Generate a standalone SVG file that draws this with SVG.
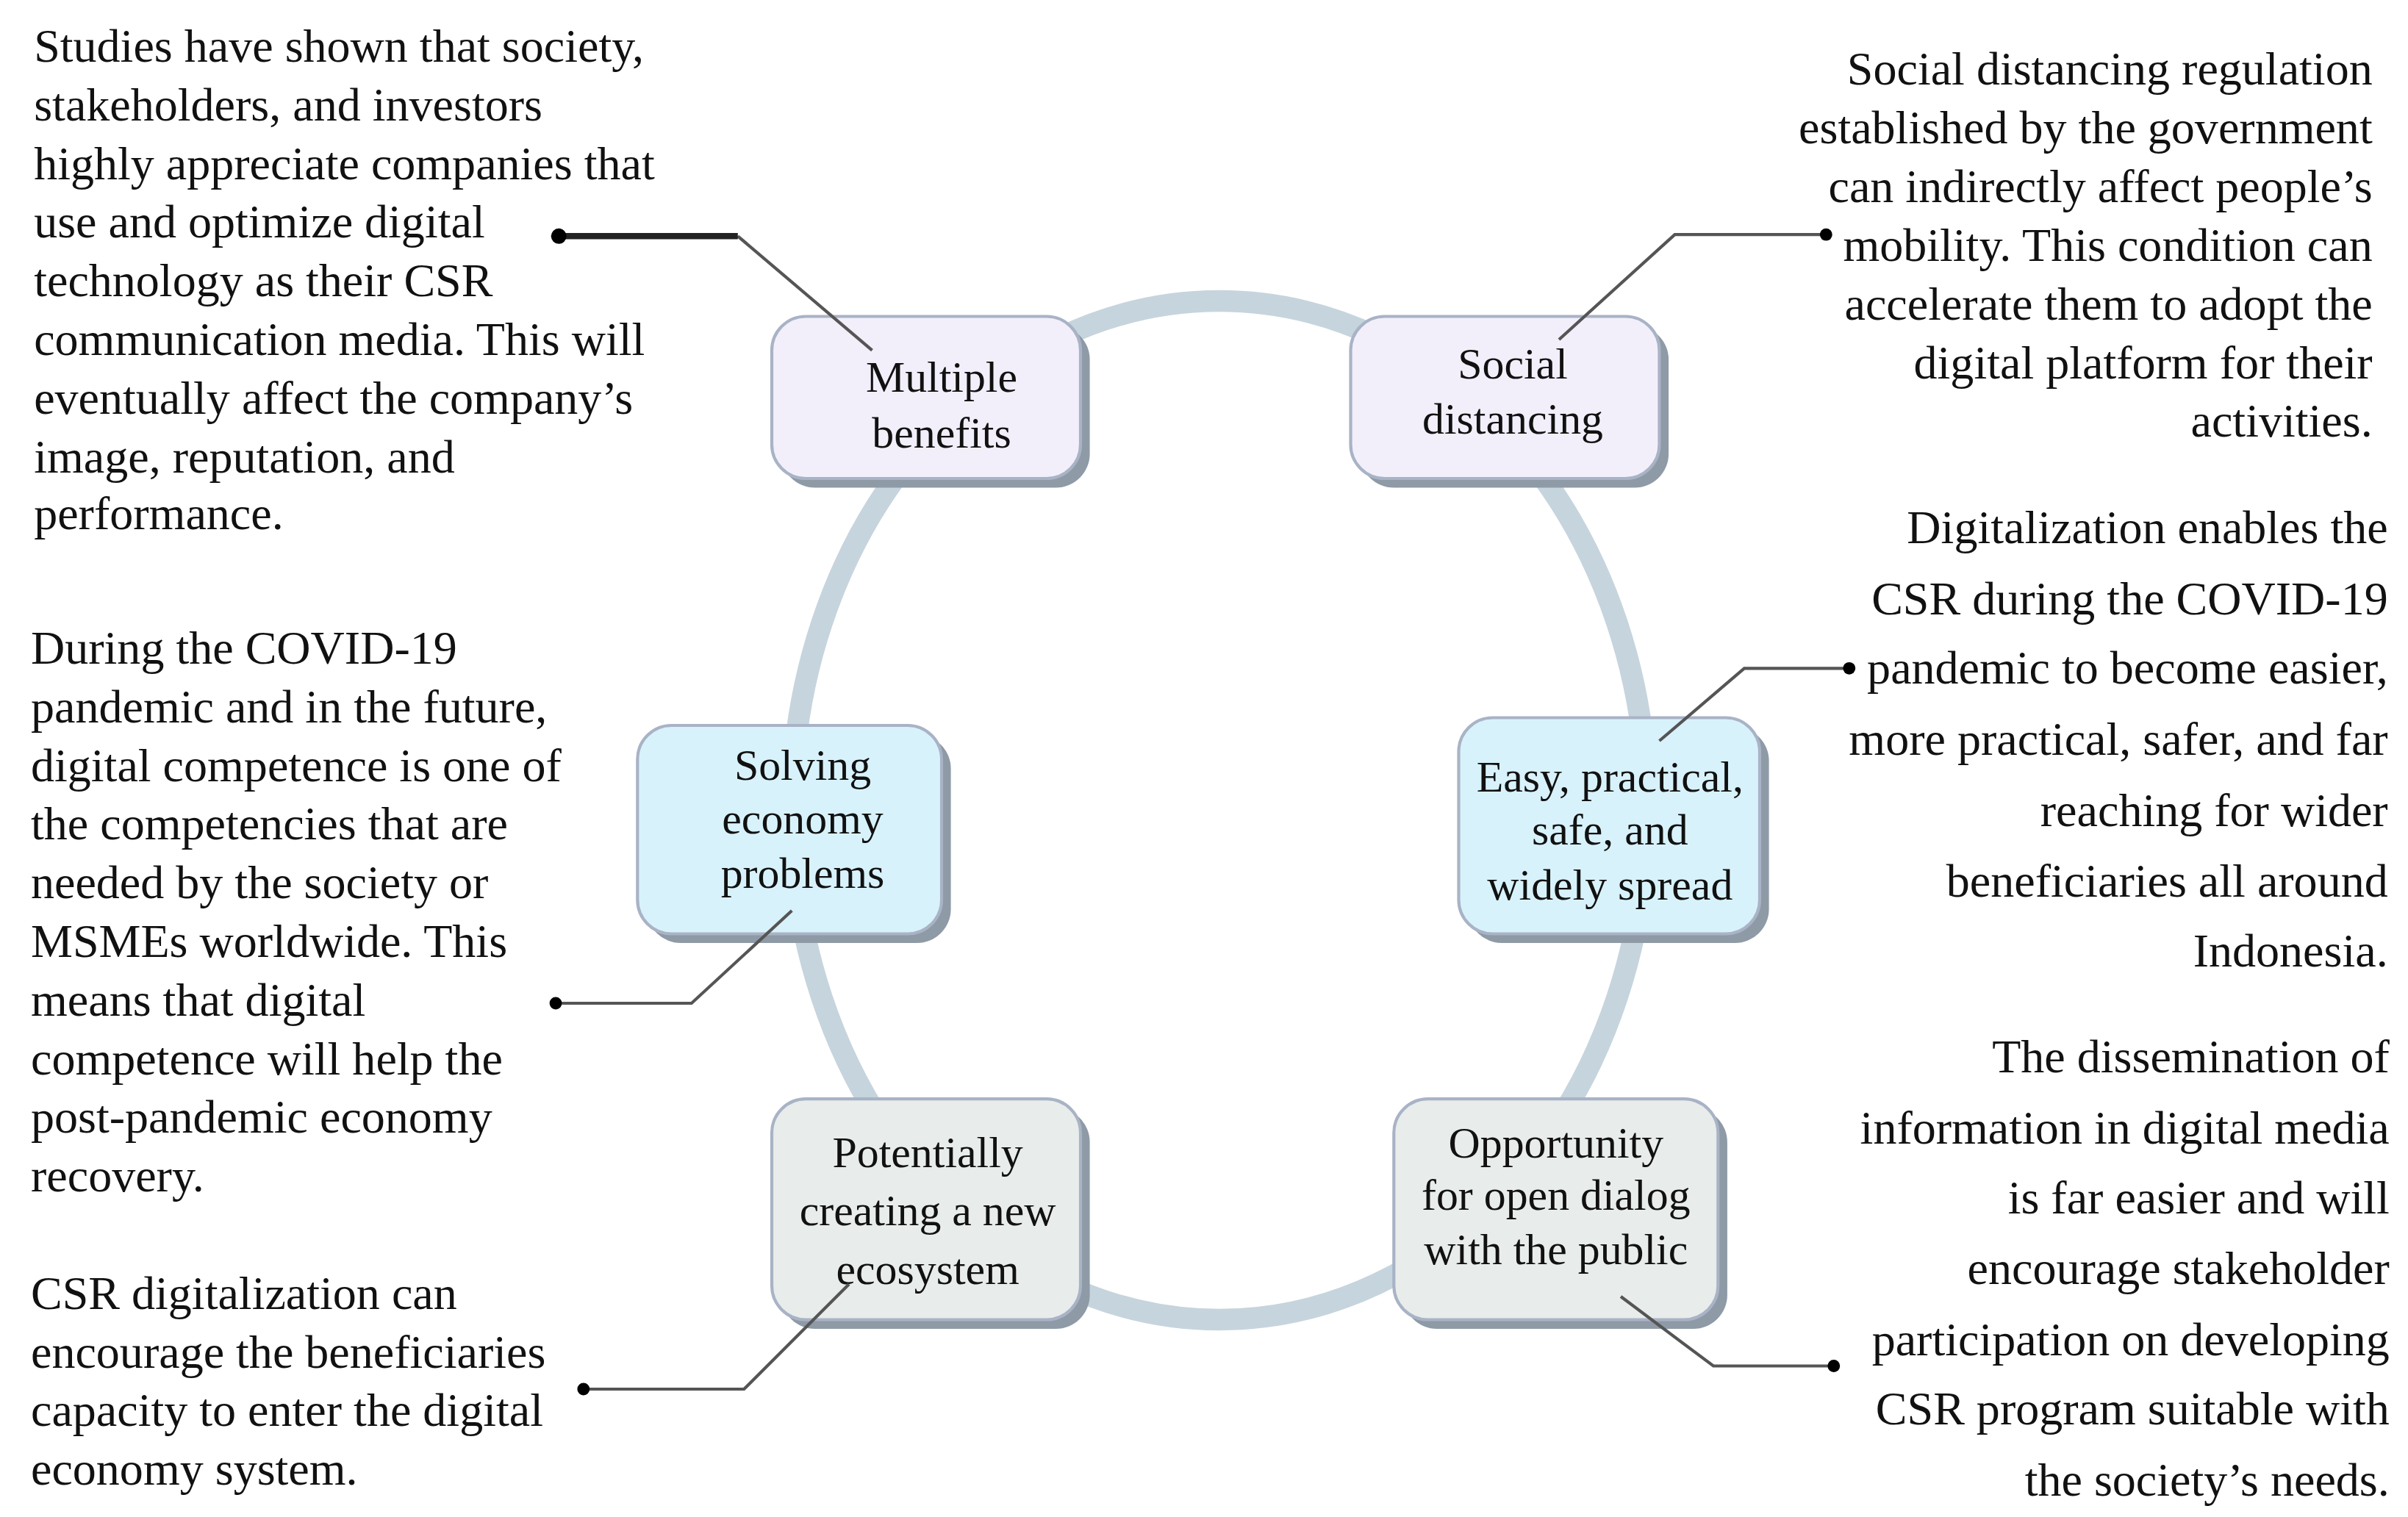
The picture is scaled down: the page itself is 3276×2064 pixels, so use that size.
<svg xmlns="http://www.w3.org/2000/svg" width="3276" height="2064" viewBox="0 0 3276 2064">
<style>
.t{font-family:"Liberation Serif","DejaVu Serif",serif;font-size:30.5px;fill:#111}
.b{font-family:"Liberation Serif","DejaVu Serif",serif;font-size:28.5px;fill:#111;text-anchor:middle}
.r{text-anchor:end}
.sh{fill:#8e9aa6}
.bx{stroke:#a9b3c6;stroke-width:2}
.lav{fill:#f2effb}.cy{fill:#d8f2fb}.gr{fill:#e8ecea}
.ln{fill:none;stroke:#555;stroke-width:2}
.dl{stroke:#222;stroke-width:4}
</style>
<rect width="3276" height="2064" fill="#fff"/>
<g transform="scale(2.1)">
<ellipse id="ring" cx="790" cy="525" rx="277" ry="330" fill="none" stroke="#c6d4dd" stroke-width="14"/>
<g id="n1"><rect class="sh" x="506" y="211" width="200" height="105" rx="22"/><rect class="bx lav" x="500" y="205" width="200" height="105" rx="22"/><text class="b" x="610" y="254">Multiple</text><text class="b" x="610" y="290">benefits</text></g>
<g id="n2"><rect class="sh" x="881" y="211" width="200" height="105" rx="22"/><rect class="bx lav" x="875" y="205" width="200" height="105" rx="22"/><text class="b" x="980" y="245">Social</text><text class="b" x="980" y="281">distancing</text></g>
<g id="n3"><rect class="sh" x="419" y="476" width="197" height="135" rx="22"/><rect class="bx cy" x="413" y="470" width="197" height="135" rx="22"/><text class="b" x="520" y="505">Solving</text><text class="b" x="520" y="540">economy</text><text class="b" x="520" y="575">problems</text></g>
<g id="n4"><rect class="sh" x="951" y="471" width="195" height="140" rx="22"/><rect class="bx cy" x="945" y="465" width="195" height="140" rx="22"/><text class="b" x="1043" y="513">Easy, practical,</text><text class="b" x="1043" y="547">safe, and</text><text class="b" x="1043" y="583">widely spread</text></g>
<g id="n5"><rect class="sh" x="506" y="718" width="200" height="143" rx="22"/><rect class="bx gr" x="500" y="712" width="200" height="143" rx="22"/><text class="b" x="601" y="756">Potentially</text><text class="b" x="601" y="794">creating a new</text><text class="b" x="601" y="832">ecosystem</text></g>
<g id="n6"><rect class="sh" x="909" y="718" width="210" height="143" rx="22"/><rect class="bx gr" x="903" y="712" width="210" height="143" rx="22"/><text class="b" x="1008" y="750">Opportunity</text><text class="b" x="1008" y="784">for open dialog</text><text class="b" x="1008" y="819">with the public</text></g>
<g id="connectors">
<polyline class="ln" points="565,227 478,153"/><line class="dl" x1="478" y1="153" x2="362" y2="153"/><circle cx="362" cy="153" r="5"/>
<polyline class="ln" points="1010,220 1085,152 1183,152"/><circle cx="1183" cy="152" r="4"/>
<polyline class="ln" points="1075,480 1130,433 1198,433"/><circle cx="1198" cy="433" r="4"/>
<polyline class="ln" points="513,590 448,650 360,650"/><circle cx="360" cy="650" r="4"/>
<polyline class="ln" points="550,832 482,900 378,900"/><circle cx="378" cy="900" r="4"/>
<polyline class="ln" points="1050,840 1110,885 1188,885"/><circle cx="1188" cy="885" r="4"/>
</g>
<g id="txt1" class="t">
<text x="22" y="40">Studies have shown that society,</text>
<text x="22" y="78">stakeholders, and investors</text>
<text x="22" y="116">highly appreciate companies that</text>
<text x="22" y="154">use and optimize digital</text>
<text x="22" y="192">technology as their CSR</text>
<text x="22" y="230">communication media. This will</text>
<text x="22" y="268">eventually affect the company’s</text>
<text x="22" y="306">image, reputation, and</text>
<text x="22" y="343">performance.</text>
</g>
<g id="txt2" class="t r">
<text x="1537" y="55">Social distancing regulation</text>
<text x="1537" y="93">established by the government</text>
<text x="1537" y="131">can indirectly affect people’s</text>
<text x="1537" y="169">mobility.  This condition can</text>
<text x="1537" y="207">accelerate them to adopt the</text>
<text x="1537" y="245">digital platform for their</text>
<text x="1537" y="283">activities.</text>
</g>
<g id="txt3" class="t r">
<text x="1547" y="352">Digitalization enables the</text>
<text x="1547" y="398">CSR during the COVID-19</text>
<text x="1547" y="443">pandemic to become easier,</text>
<text x="1547" y="489">more practical, safer, and far</text>
<text x="1547" y="535">reaching for wider</text>
<text x="1547" y="581">beneficiaries all around</text>
<text x="1547" y="626">Indonesia.</text>
</g>
<g id="txt4" class="t">
<text x="20" y="430">During the COVID-19</text>
<text x="20" y="468">pandemic and in the future,</text>
<text x="20" y="506">digital competence is one of</text>
<text x="20" y="544">the competencies that are</text>
<text x="20" y="582">needed by the society or</text>
<text x="20" y="620">MSMEs worldwide. This</text>
<text x="20" y="658">means that digital</text>
<text x="20" y="696">competence will help the</text>
<text x="20" y="734">post-pandemic economy</text>
<text x="20" y="772">recovery.</text>
</g>
<g id="txt5" class="t r">
<text x="1548" y="695">The dissemination of</text>
<text x="1548" y="741">information in digital media</text>
<text x="1548" y="786">is far easier and will</text>
<text x="1548" y="832">encourage stakeholder</text>
<text x="1548" y="878">participation on developing</text>
<text x="1548" y="923">CSR program suitable with</text>
<text x="1548" y="969">the society’s needs.</text>
</g>
<g id="txt6" class="t">
<text x="20" y="848">CSR digitalization can</text>
<text x="20" y="886">encourage the beneficiaries</text>
<text x="20" y="924">capacity to enter the digital</text>
<text x="20" y="962">economy system.</text>
</g>
</g>
</svg>
